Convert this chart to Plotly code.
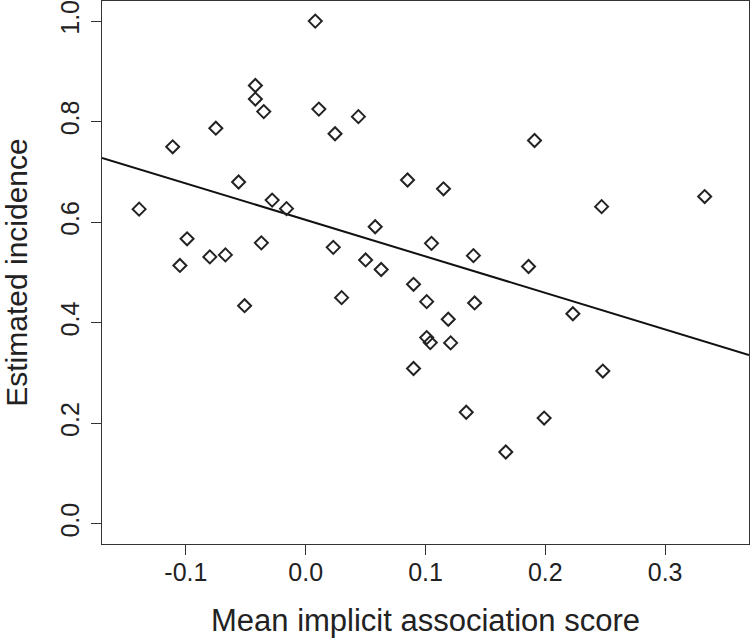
import plotly.graph_objects as go

# Data
iat_score = [-0.139, -0.111, -0.105, -0.099, -0.080, -0.075, -0.067, -0.056, -0.051,
             -0.042, -0.042, -0.035, -0.037, -0.028, -0.016, 0.008, 0.011, 0.0245,
             0.023, 0.030, 0.044, 0.050, 0.058, 0.063, 0.191, 0.085, 0.115, 0.247,
             0.333, 0.105, 0.140, 0.186, 0.090, 0.101, 0.141, 0.119, 0.223, 0.101,
             0.104, 0.121, 0.090, 0.248, 0.134, 0.199, 0.167]
incidence = [0.626, 0.750, 0.514, 0.567, 0.531, 0.787, 0.535, 0.680, 0.434,
             0.872, 0.845, 0.820, 0.559, 0.644, 0.627, 1.000, 0.825, 0.776,
             0.550, 0.450, 0.810, 0.525, 0.591, 0.506, 0.7625, 0.684, 0.6665, 0.631,
             0.651, 0.558, 0.5335, 0.512, 0.4765, 0.442, 0.4395, 0.407, 0.418, 0.3705,
             0.3606, 0.360, 0.309, 0.304, 0.222, 0.2105, 0.143]

fit_intercept = 0.6046
fit_slope = -0.726

x_range = [-0.17, 0.37]
y_range = [-0.04, 1.04]

x_tickvals = [-0.1, 0.0, 0.1, 0.2, 0.3]
x_ticktext = ["-0.1", "0.0", "0.1", "0.2", "0.3"]
y_tickvals = [0.0, 0.2, 0.4, 0.6, 0.8, 1.0]
y_ticktext = ["0.0", "0.2", "0.4", "0.6", "0.8", "1.0"]

x_title = "Mean implicit association score"
y_title = "Estimated incidence"

line_x = x_range
line_y = [fit_intercept + fit_slope * v for v in line_x]

ink = "#222222"
font_family = "Liberation Sans, Arial, Helvetica, sans-serif"

fig = go.Figure()
fig.add_trace(go.Scatter(
    x=line_x, y=line_y, mode="lines",
    line=dict(color="#111111", width=2),
    hoverinfo="skip", showlegend=False,
))
fig.add_trace(go.Scatter(
    x=iat_score, y=incidence, mode="markers",
    marker=dict(symbol="diamond-open", size=10, color=ink,
                line=dict(color=ink, width=2)),
    showlegend=False,
))

fig.update_layout(
    width=750, height=643,
    margin=dict(l=102, r=1, t=1, b=99),
    paper_bgcolor="white", plot_bgcolor="white",
    font=dict(family=font_family, color=ink),
)
fig.update_xaxes(
    range=x_range, showgrid=False, zeroline=False, automargin=False,
    showline=True, linecolor="#333333", linewidth=1, mirror=True,
    ticks="outside", ticklen=10, tickwidth=1, tickcolor="#333333",
    tickvals=x_tickvals, ticktext=x_ticktext, ticklabeloverflow="allow",
    ticklabelstandoff=-4,
    tickfont=dict(size=25, family=font_family, color=ink),
    title=dict(text=x_title, font=dict(size=31, family=font_family, color=ink), standoff=24),
)
fig.update_yaxes(
    range=y_range, showgrid=False, zeroline=False, automargin=False,
    showline=True, linecolor="#333333", linewidth=1, mirror=True,
    ticks="outside", ticklen=10, tickwidth=1, tickcolor="#333333",
    tickvals=y_tickvals, ticktext=y_ticktext, tickangle=-90, ticklabeloverflow="allow",
    ticklabelstandoff=2,
    tickfont=dict(size=25, family=font_family, color=ink),
    title=dict(text=y_title, font=dict(size=30, family=font_family, color=ink), standoff=19),
)

fig.write_html("out.html", config={"displayModeBar": False},
               post_script="document.body.style.margin='0';")
